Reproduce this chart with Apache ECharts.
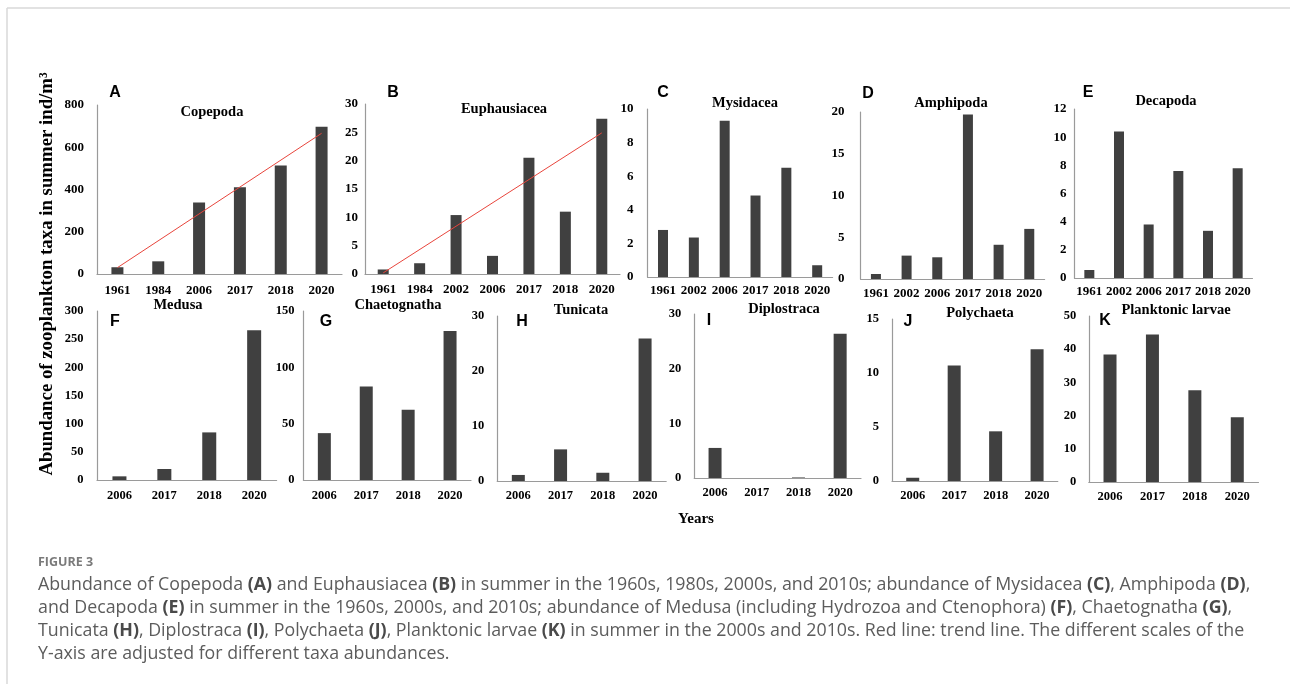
<!DOCTYPE html>
<html>
<head>
<meta charset="utf-8">
<title>Figure 3 - zooplankton abundance</title>
<script src="https://cdn.jsdelivr.net/npm/echarts@6.0.0/dist/echarts.min.js"></script>
<style>
  html, body { margin: 0; padding: 0; background: #fff; }
  #chart { width: 1290px; height: 684px; }
</style>
</head>
<body>
<div id="chart"></div>
<script>
// ---- data (ind/m3) ----
var yearsA = ['1961', '1984', '2006', '2017', '2018', '2020'];
var copepoda = [32, 60, 339, 411, 514, 697];
var copepodaTrend = [30, 666]; // red trend line, first and last year

var yearsB = ['1961', '1984', '2002', '2006', '2017', '2018', '2020'];
var euphausiacea = [0.8, 1.9, 10.4, 3.2, 20.5, 11.0, 27.4];
var euphausiaceaTrend = [0.2, 24.9];

var yearsCDE = ['1961', '2002', '2006', '2017', '2018', '2020'];
var mysidacea = [2.8, 2.35, 9.3, 4.85, 6.5, 0.7];
var amphipoda = [0.6, 2.8, 2.6, 19.7, 4.1, 6.0];
var decapoda = [0.57, 10.4, 3.8, 7.6, 3.35, 7.8];

var yearsFK = ['2006', '2017', '2018', '2020'];
var medusa = [6.5, 19.5, 84.5, 266];
var chaetognatha = [41.6, 83, 62.3, 132.3];
var tunicata = [1.1, 5.75, 1.5, 25.9];
var diplostraca = [5.5, 0, 0.1, 26.4];
var polychaeta = [0.3, 10.7, 4.6, 12.2];
var larvae = [38.4, 44.4, 27.6, 19.5];

// y axis ranges [max, interval]
var yMax = [800, 30, 10, 20, 12, 300, 150, 30, 30, 15, 50];
var yStep = [200, 5, 2, 5, 2, 50, 50, 10, 10, 5, 10];

var letters = ['A', 'B', 'C', 'D', 'E', 'F', 'G', 'H', 'I', 'J', 'K'];
var taxa = ['Copepoda', 'Euphausiacea', 'Mysidacea', 'Amphipoda', 'Decapoda',
  'Medusa', 'Chaetognatha', 'Tunicata', 'Diplostraca', 'Polychaeta', 'Planktonic larvae'];

var yTitle = 'Abundance of zooplankton taxa in summer ind/m\u00b3';
var xTitle = 'Years';
var figLabel = 'FIGURE 3';
var caption = [
  'Abundance of Copepoda {b|(A)} and Euphausiacea {b|(B)} in summer in the 1960s, 1980s, 2000s, and 2010s; abundance of Mysidacea {b|(C)}, Amphipoda {b|(D)},',
  'and Decapoda {b|(E)} in summer in the 1960s, 2000s, and 2010s; abundance of Medusa (including Hydrozoa and Ctenophora) {b|(F)}, Chaetognatha {b|(G)},',
  'Tunicata {b|(H)}, Diplostraca {b|(I)}, Polychaeta {b|(J)}, Planktonic larvae {b|(K)} in summer in the 2000s and 2010s. Red line: trend line. The different scales of the',
  'Y-axis are adjusted for different taxa abundances.'
];

// ---- layout (px) ----
var cats = [yearsA, yearsB, yearsCDE, yearsCDE, yearsCDE, yearsFK, yearsFK, yearsFK, yearsFK, yearsFK, yearsFK];
var values = [copepoda, euphausiacea, mysidacea, amphipoda, decapoda,
  medusa, chaetognatha, tunicata, diplostraca, polychaeta, larvae];
var layout = [
  // left, top, width, height, barWidth, yLabel margin, xLabel margin, title x,y, letter x,y
  [97, 105, 245, 169, 12, 13, 10, 212, 112, 115, 93],
  [365, 104, 255, 170, 11, 7, 9, 504, 109, 393, 93],
  [647.6, 109, 185, 168, 10, 14, 7.5, 745, 103, 663, 93],
  [860.6, 112, 184, 167, 10, 16, 8.5, 951, 103, 868, 94],
  [1074.5, 109, 178, 169, 10, 8, 7, 1166, 101, 1088, 93],
  [97, 311, 179.6, 169, 14, 13.5, 9, 178, 305, 115, 322],
  [303.4, 311, 167.6, 169, 13, 9, 9, 398, 305, 326, 322],
  [497.2, 316, 169, 165, 13, 13, 8, 581, 310, 522, 322],
  [694.2, 314, 166.8, 164, 13, 13, 8, 784, 309, 709, 321],
  [892, 319, 165.8, 162, 13, 13, 8, 980, 313, 908, 322],
  [1088.8, 316, 169.7, 166, 13, 12.5, 8, 1176, 310, 1105, 321]
];

var serif = "'Liberation Serif', 'Times New Roman', serif";
var sans = "'Liberation Sans', Arial, sans-serif";
var capFont = "'Open Sans', Lato, sans-serif";
var axisGray = '#9a9a9a';
var barColor = '#404040';

var grids = [], xAxes = [], yAxes = [], series = [], graphics = [];
for (var i = 0; i < values.length; i++) {
  var L = layout[i];
  var fs = i < 5 ? 13 : 12.5;
  grids.push({ left: L[0], top: L[1], width: L[2], height: L[3] });
  xAxes.push({
    type: 'category', gridIndex: i, data: cats[i],
    axisLine: { lineStyle: { color: axisGray, width: 1.2 } },
    axisTick: { show: false },
    axisLabel: { color: '#000', fontFamily: serif, fontWeight: 'bold', fontSize: fs, margin: L[6], interval: 0 }
  });
  yAxes.push({
    type: 'value', gridIndex: i, min: 0, max: yMax[i], interval: yStep[i],
    axisLine: { show: true, lineStyle: { color: axisGray, width: 1.2 } },
    axisTick: { show: false },
    splitLine: { show: false },
    axisLabel: { color: '#000', fontFamily: serif, fontWeight: 'bold', fontSize: fs, margin: L[5] }
  });
  series.push({
    type: 'bar', xAxisIndex: i, yAxisIndex: i, data: values[i],
    barWidth: L[4], itemStyle: { color: barColor }
  });
  graphics.push({
    type: 'text', x: L[7], y: L[8],
    style: { text: taxa[i], fontFamily: serif, fontWeight: 'bold', fontSize: 14.5, fill: '#000',
      align: 'center', verticalAlign: 'middle' }
  });
  graphics.push({
    type: 'text', x: L[9], y: L[10],
    style: { text: letters[i], fontFamily: sans, fontWeight: 'bold', fontSize: 16, fill: '#000',
      align: 'center', verticalAlign: 'middle' }
  });
}

// trend lines: only the two end points are known, the library joins them
function trendData(n, ends) {
  var d = [];
  for (var k = 0; k < n; k++) d.push(null);
  d[0] = ends[0];
  d[n - 1] = ends[1];
  return d;
}
[[0, copepodaTrend, yearsA.length], [1, euphausiaceaTrend, yearsB.length]].forEach(function (t) {
  series.push({
    type: 'line', xAxisIndex: t[0], yAxisIndex: t[0], data: trendData(t[2], t[1]),
    connectNulls: true, symbol: 'none', silent: true, z: 5,
    lineStyle: { color: '#e8453c', width: 1 }
  });
});

// frame
graphics.push({ type: 'line', shape: { x1: 7, y1: 8, x2: 1290, y2: 8 }, style: { stroke: '#d9d9d9', lineWidth: 1.5 } });
graphics.push({ type: 'line', shape: { x1: 7, y1: 8, x2: 7, y2: 684 }, style: { stroke: '#d9d9d9', lineWidth: 1.5 } });

// axis titles
graphics.push({
  type: 'text', x: 47, y: 274, rotation: Math.PI / 2,
  style: { text: yTitle, fontFamily: serif, fontWeight: 'bold', fontSize: 18.8, fill: '#000',
    align: 'center', verticalAlign: 'middle' }
});
graphics.push({
  type: 'text', x: 696, y: 519,
  style: { text: xTitle, fontFamily: serif, fontWeight: 'bold', fontSize: 15, fill: '#000',
    align: 'center', verticalAlign: 'middle' }
});

// caption
graphics.push({
  type: 'text', x: 38, y: 562,
  style: { text: figLabel, fontFamily: capFont, fontWeight: 'bold', fontSize: 12.5, fill: '#7a7a7a',
    align: 'left', verticalAlign: 'middle' }
});
caption.forEach(function (line, k) {
  graphics.push({
    type: 'text', x: 38, y: 585 + k * 23,
    style: {
      text: line, fontFamily: capFont, fontSize: 17.8, fill: '#5c5c5c',
      align: 'left', verticalAlign: 'middle',
      rich: { b: { fontFamily: capFont, fontSize: 17.8, fontWeight: 'bold', fill: '#4a4a4a' } }
    }
  });
});

var chart = echarts.init(document.getElementById('chart'));
chart.setOption({
  animation: false,
  backgroundColor: '#fff',
  grid: grids,
  xAxis: xAxes,
  yAxis: yAxes,
  series: series,
  graphic: graphics
});
</script>
</body>
</html>
